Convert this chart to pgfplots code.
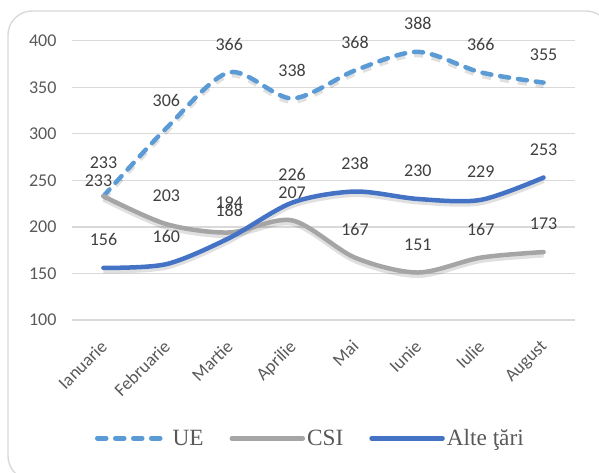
\documentclass[border=0pt]{standalone}
\usepackage{fontspec}
\setmainfont{Carlito}
\newfontfamily\legfont{Liberation Serif}
\usepackage{pgfplots}
\pgfplotsset{compat=1.18}
\usepackage{pgfplotstable}

\definecolor{ueblue}{HTML}{5B9BD5}
\definecolor{csigray}{HTML}{A5A5A5}
\definecolor{alteblue}{HTML}{4472C4}
\definecolor{gridgray}{HTML}{D9D9D9}
\definecolor{ticktext}{HTML}{595959}
\definecolor{labeltext}{HTML}{404040}

% x = month index, dx/dy = label offset from the point (pt)
\pgfplotstableread{
x y   dx dy
0 233 0  33
1 306 0  28
2 366 0  28
3 338 0  28
4 368 0  28
5 388 0  28
6 366 0  28
7 355 0  28
}\ue
\pgfplotstableread{
x y   dx dy
0 233 -5 15.4
1 203 0  28
2 194 0  29.5
3 207 0  28
4 167 0  28
5 151 0  28
6 167 0  28
7 173 0  28
}\csi
\pgfplotstableread{
x y   dx dy
0 156 0  28
1 160 0  28
2 188 0  28
3 226 0  28
4 238 0  28
5 230 0  28
6 229 0  28
7 253 0  28
}\alte

\begin{document}
\begin{tikzpicture}
\begin{scope}
\clip (-72pt,-152pt) rectangle (527pt,320pt);
\draw[gridgray, line width=1.4pt, rounded corners=24pt] (-64pt,-160pt) rectangle (538pt,309pt);
\end{scope}
\begin{axis}[
  at={(0,0)}, anchor=south west,
  scale only axis, width=503pt, height=279.3pt,
  xmin=-0.5, xmax=7.5, ymin=100, ymax=400,
  xtick={0,...,7},
  xticklabels={Ianuarie,Februarie,Martie,Aprilie,Mai,Iunie,Iulie,August},
  ytick={100,150,...,400},
  ymajorgrids, grid style={gridgray, line width=1.3pt},
  axis line style={draw=none},
  major tick length=0pt,
  clip=false,
  /pgf/number format/assume math mode=true,
  tick label style={font=\fontsize{18}{21}\selectfont, text=ticktext},
  yticklabel style={xshift=-12pt},
  xticklabel style={xshift=-4pt, yshift=-14pt, rotate=45, anchor=north east},
  lbl/.style={
    nodes near coords,
    visualization depends on={\thisrow{dx} \as \dx},
    visualization depends on={\thisrow{dy} \as \dy},
    every node near coord/.append style={anchor=center, inner sep=0pt,
      font=\fontsize{18}{21}\selectfont, text=labeltext,
      xshift=\dx pt, yshift=\dy pt},
  },
  shadow/.style={forget plot, smooth, black, opacity=0.12, line width=5pt, yshift=-3pt},
  legend style={at={(axis description cs:0.474,-0.4236)}, anchor=center,
    draw=none, fill=none, text=ticktext,
    font=\legfont\fontsize{23.3}{27}\selectfont,
    /tikz/every even column/.append style={column sep=24pt}},
  legend columns=3,
  legend image code/.code={\draw[#1] (0pt,0pt) -- (71pt,0pt);},
]
\addplot[shadow, dash pattern=on 9pt off 9pt] table[x=x,y=y] {\ue};
\addplot[shadow] table[x=x,y=y] {\csi};
\addplot[shadow] table[x=x,y=y] {\alte};

\addplot[lbl, smooth, ueblue, line width=4.5pt, line cap=round, dash pattern=on 9pt off 9pt] table[x=x,y=y] {\ue};
\addlegendentry{UE}
\addplot[lbl, smooth, csigray, line width=4.5pt, line cap=round] table[x=x,y=y] {\csi};
\addlegendentry{CSI}
\addplot[lbl, smooth, alteblue, line width=4.5pt, line cap=round] table[x=x,y=y] {\alte};
\addlegendentry{Alte ţări}
\end{axis}
\pgfresetboundingbox
\path (-72pt,-152pt) rectangle (527pt,320pt);
\end{tikzpicture}
\end{document}
